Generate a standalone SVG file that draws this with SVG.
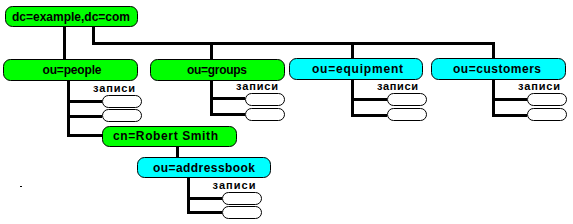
<svg xmlns="http://www.w3.org/2000/svg" width="573" height="224" viewBox="0 0 573 224">
<style>
.g{fill:#00ff00;stroke:#000;stroke-width:1}
.c{fill:#00ffff;stroke:#000;stroke-width:1}
.o{fill:#fff;stroke:#000;stroke-width:1}
.t{font-family:"Liberation Sans",Arial,sans-serif;font-weight:bold;font-size:12px;fill:#000}
.z{font-family:"Liberation Sans",Arial,sans-serif;font-weight:bold;font-size:11px;fill:#000}
.l{stroke:#000;stroke-width:3;fill:none}
</style>
<rect width="573" height="224" fill="#fff"/>
<g id="connectors">
<path class="l" d="M64.5,27V60"/>
<path class="l" d="M93.5,27V43.5H493.5V59"/>
<path class="l" d="M211.5,43.5V59"/>
<path class="l" d="M352.5,43.5V58"/>
<path class="l" d="M68.5,81V135.5H102"/>
<path class="l" d="M68.5,101.5H102M68.5,116.5H102"/>
<path class="l" d="M211.5,81V114.5H245M211.5,98.5H245"/>
<path class="l" d="M352.5,80V115.5H387M352.5,99.5H387"/>
<path class="l" d="M493.5,80V115.5H527M493.5,99.5H527"/>
<path class="l" d="M177.5,147V157"/>
<path class="l" d="M188.5,178V212.5H222M188.5,198.5H222"/>
</g>
<g id="root"><rect class="g" x="5.5" y="6.5" width="132" height="20" rx="7"/><text class="t" x="71" y="21" text-anchor="middle" textLength="118">dc=example,dc=com</text></g>
<g id="people"><rect class="g" x="3.5" y="59.5" width="134" height="21" rx="7"/><text class="t" x="72" y="74" text-anchor="middle" textLength="59">ou=people</text>
<text class="z" x="114" y="92" text-anchor="middle" textLength="42">записи</text>
<rect class="o" x="102.5" y="95.5" width="39" height="12" rx="6"/><rect class="o" x="102.5" y="109.5" width="39" height="12" rx="6"/></g>
<g id="groups"><rect class="g" x="150.5" y="59.5" width="134" height="21" rx="7"/><text class="t" x="217" y="74" text-anchor="middle" textLength="60">ou=groups</text>
<text class="z" x="257" y="90" text-anchor="middle" textLength="42">записи</text>
<rect class="o" x="245.5" y="93.5" width="39" height="12" rx="6"/><rect class="o" x="245.5" y="108.5" width="39" height="12" rx="6"/></g>
<g id="equipment"><rect class="c" x="289.5" y="58.5" width="133" height="21" rx="7"/><text class="t" x="357.5" y="73" text-anchor="middle" textLength="91">ou=equipment</text>
<text class="z" x="397.5" y="90" text-anchor="middle" textLength="41">записи</text>
<rect class="o" x="387.5" y="93.5" width="39" height="12" rx="6"/><rect class="o" x="387.5" y="108.5" width="39" height="12" rx="6"/></g>
<g id="customers"><rect class="c" x="431.5" y="58.5" width="134" height="21" rx="7"/><text class="t" x="497" y="73" text-anchor="middle" textLength="88">ou=customers</text>
<text class="z" x="539" y="90" text-anchor="middle" textLength="42">записи</text>
<rect class="o" x="527.5" y="93.5" width="39" height="12" rx="6"/><rect class="o" x="527.5" y="108.5" width="39" height="12" rx="6"/></g>
<g id="robert"><rect class="g" x="102.5" y="126.5" width="134" height="20" rx="7"/><text class="t" x="165.5" y="140" text-anchor="middle" textLength="105">cn=Robert Smith</text></g>
<g id="addressbook"><rect class="c" x="137.5" y="157.5" width="133" height="20" rx="7"/><text class="t" x="204" y="172" text-anchor="middle" textLength="102">ou=addressbook</text>
<text class="z" x="234" y="189" text-anchor="middle" textLength="43">записи</text>
<rect class="o" x="222.5" y="192.5" width="39" height="12" rx="6"/><rect class="o" x="222.5" y="206.5" width="39" height="12" rx="6"/></g>
<rect x="20" y="186" width="2" height="1" fill="#000"/>
</svg>
